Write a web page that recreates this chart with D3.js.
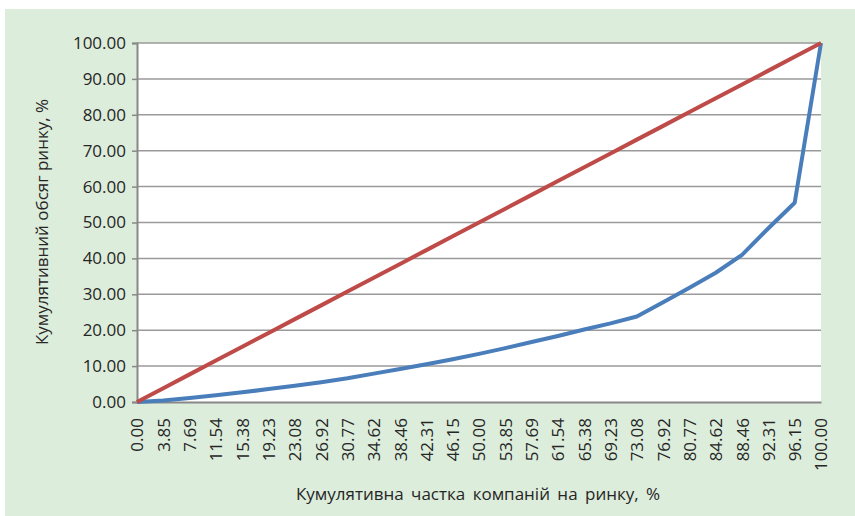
<!DOCTYPE html>
<html>
<head>
<meta charset="utf-8">
<script src="https://cdn.jsdelivr.net/npm/d3@7"></script>
<style>
  body { margin: 0; background: #fff; }
  svg text { font-family: "Open Sans", sans-serif; fill: #262626; }
</style>
</head>
<body>
<svg width="855" height="516"></svg>
<script>
// categories along x (cumulative share of companies, %)
var shares = ["0.00", "3.85", "7.69", "11.54", "15.38", "19.23", "23.08", "26.92", "30.77",
  "34.62", "38.46", "42.31", "46.15", "50.00", "53.85", "57.69", "61.54", "65.38",
  "69.23", "73.08", "76.92", "80.77", "84.62", "88.46", "92.31", "96.15", "100.00"];

// Lorenz curve (cumulative market volume, %)
var lorenz = [0, 0.4, 1.1, 1.9, 2.7, 3.6, 4.5, 5.5, 6.6, 7.9, 9.2, 10.5, 11.9, 13.4,
  15.0, 16.7, 18.4, 20.2, 21.9, 23.8, 27.8, 31.8, 36.0, 41.0, 48.4, 55.5, 100];

// line of equality
var equality = [0, 3.85, 7.69, 11.54, 15.38, 19.23, 23.08, 26.92, 30.77, 34.62, 38.46,
  42.31, 46.15, 50.00, 53.85, 57.69, 61.54, 65.38, 69.23, 73.08, 76.92, 80.77, 84.62,
  88.46, 92.31, 96.15, 100];

var yTicks = [0, 10, 20, 30, 40, 50, 60, 70, 80, 90, 100];

var svg = d3.select("svg");

var margin = {top: 43, right: 34, bottom: 114, left: 137},
    width = 855 - margin.left - margin.right,
    height = 516 - margin.top - margin.bottom;

// green chart area
svg.append("rect")
  .attr("x", 5).attr("y", 9)
  .attr("width", 850).attr("height", 507)
  .attr("fill", "#ddeddb");

var g = svg.append("g")
  .attr("transform", "translate(" + margin.left + "," + margin.top + ")");

g.append("rect")
  .attr("width", width).attr("height", height)
  .attr("fill", "#fff");

var x = d3.scalePoint().domain(shares).range([0, width]);
var y = d3.scaleLinear().domain([0, 100]).range([height, 0]);

// gridlines
g.selectAll(".grid")
  .data(yTicks.slice(1))
  .enter()
  .append("line")
    .attr("class", "grid")
    .attr("x1", 0).attr("x2", width)
    .attr("y1", d => y(d)).attr("y2", d => y(d))
    .attr("stroke", "#9a9a9a")
    .attr("stroke-width", 1.5);

// y axis
var yAxis = g.append("g")
  .call(d3.axisLeft(y).tickValues(yTicks).tickFormat(d3.format(".2f")).tickSize(5).tickPadding(6));
yAxis.select(".domain").attr("stroke", "#888").attr("stroke-width", 2);
yAxis.selectAll(".tick line").attr("stroke", "#888").attr("stroke-width", 1.5);
yAxis.selectAll("text").style("font-size", "17px").attr("fill", "#262626");

// x axis
var xAxis = g.append("g")
  .attr("transform", "translate(0," + height + ")")
  .call(d3.axisBottom(x).tickSize(0));
xAxis.select(".domain").attr("stroke", "#888").attr("stroke-width", 2);
xAxis.selectAll("text")
  .style("font-size", "17px")
  .attr("fill", "#262626")
  .attr("text-anchor", "end")
  .attr("dy", "0.35em")
  .attr("transform", "translate(0,16) rotate(-90)")
  .attr("x", 0).attr("y", 0);

var line = d3.line()
  .x((d, i) => x(shares[i]))
  .y(d => y(d));

g.append("path")
  .datum(lorenz)
  .attr("d", line)
  .attr("fill", "none")
  .attr("stroke", "#4a7ebb")
  .attr("stroke-width", 4)
  .attr("stroke-linejoin", "round");

g.append("path")
  .datum(equality)
  .attr("d", line)
  .attr("fill", "none")
  .attr("stroke", "#be4b48")
  .attr("stroke-width", 4)
  .attr("stroke-linejoin", "round");

// axis titles
svg.append("text")
  .attr("x", 478).attr("y", 500)
  .attr("text-anchor", "middle")
  .style("font-size", "17px")
  .style("word-spacing", "3px")
  .text("Кумулятивна частка компаній на ринку, %");

svg.append("text")
  .attr("transform", "translate(48,222) rotate(-90)")
  .attr("text-anchor", "middle")
  .style("font-size", "17px")
  .text("Кумулятивний обсяг ринку, %");
</script>
</body>
</html>
